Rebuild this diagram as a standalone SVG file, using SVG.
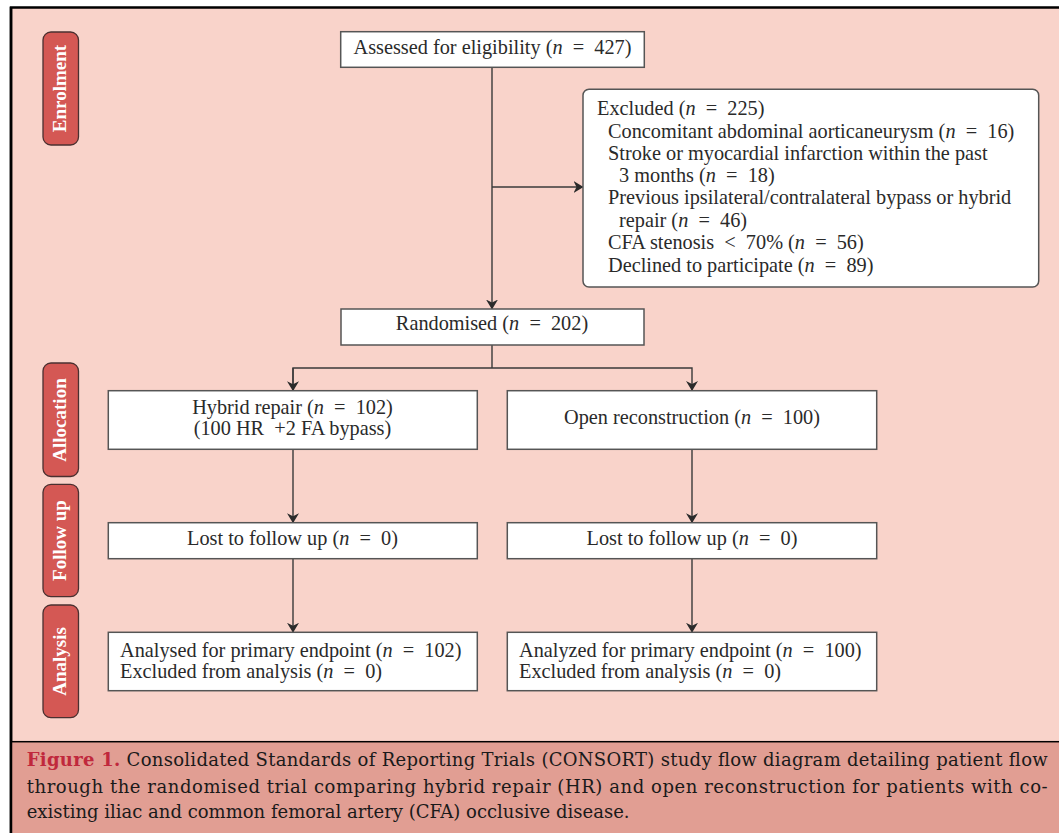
<svg xmlns="http://www.w3.org/2000/svg" width="1059" height="833" viewBox="0 0 1059 833">
<defs>
<marker id="arr" markerWidth="10" markerHeight="12" refX="9" refY="6" orient="auto" markerUnits="userSpaceOnUse">
<path d="M0,0 L10,6 L0,12 L3,6 Z" fill="#2b2b2b"/>
</marker>
<style>
.box{fill:#ffffff;stroke:#555555;stroke-width:1.5}
.pill{fill:#d45854;stroke:#4a3030;stroke-width:1.3}
.t{font-family:"Liberation Serif",serif;font-size:20.3px;fill:#2a2a2a}
.c{text-anchor:middle}
.pl{font-family:"Liberation Serif",serif;font-size:19px;font-weight:bold;fill:#ffffff;text-anchor:middle}
.ln{fill:none;stroke:#3a3a3a;stroke-width:1.4}
.cap{font-family:"DejaVu Serif",serif;font-size:18px;fill:#1a1a1a}
.fig{fill:#c0283c;font-weight:bold}
.it{font-style:italic}
</style>
</defs>
<rect x="0" y="0" width="1059" height="833" fill="#ffffff"/>
<rect x="11" y="7.5" width="1060" height="840" fill="#f9d3ca" stroke="#000000" stroke-width="2.5"/>
<rect x="11" y="741.7" width="1060" height="100" fill="#e19e93" stroke="#000000" stroke-width="1.5"/>
<line x1="11" y1="7" x2="11" y2="833" stroke="#000" stroke-width="2.5"/>

<g id="pill-enrolment"><rect class="pill" x="43" y="32" width="35.5" height="113" rx="8"/><text class="pl" transform="translate(66,88.5) rotate(-90)">Enrolment</text></g>
<g id="pill-allocation"><rect class="pill" x="43" y="363" width="35.5" height="113.5" rx="8"/><text class="pl" transform="translate(66,420) rotate(-90)">Allocation</text></g>
<g id="pill-followup"><rect class="pill" x="43" y="484.3" width="35.5" height="112.4" rx="8"/><text class="pl" transform="translate(66,540.5) rotate(-90)">Follow up</text></g>
<g id="pill-analysis"><rect class="pill" x="43" y="605" width="35.5" height="112.7" rx="8"/><text class="pl" transform="translate(66,661.5) rotate(-90)">Analysis</text></g>

<g id="connectors">
<line class="ln" x1="492" y1="67.3" x2="492" y2="308.5" marker-end="url(#arr)"/>
<line class="ln" x1="492" y1="187" x2="582.5" y2="187" marker-end="url(#arr)"/>
<polyline class="ln" points="492,345 492,368"/>
<polyline class="ln" points="293,390 293,368 692,368 692,390" marker-end="url(#arr)"/>
<line class="ln" x1="293" y1="368" x2="293" y2="390.2" marker-end="url(#arr)"/>
<line class="ln" x1="293" y1="449.3" x2="293" y2="522.2" marker-end="url(#arr)"/>
<line class="ln" x1="692" y1="449.3" x2="692" y2="522.2" marker-end="url(#arr)"/>
<line class="ln" x1="293" y1="558.7" x2="293" y2="631.8" marker-end="url(#arr)"/>
<line class="ln" x1="692" y1="558.7" x2="692" y2="631.8" marker-end="url(#arr)"/>
</g>

<g id="assessed"><rect class="box" x="340.7" y="31.7" width="303.6" height="35.6"/><text class="t c" x="492.5" y="54.3">Assessed for eligibility (<tspan class="it">n</tspan>&#8194;=&#8194;427)</text></g>

<g id="excluded"><rect class="box" x="583" y="89.3" width="455.7" height="197.7" rx="6"/>
<text class="t" x="597" y="115">Excluded (<tspan class="it">n</tspan>&#8194;=&#8194;225)</text>
<text class="t" x="608" y="137.5">Concomitant abdominal aorticaneurysm (<tspan class="it">n</tspan>&#8194;=&#8194;16)</text>
<text class="t" x="608" y="160">Stroke or myocardial infarction within the past</text>
<text class="t" x="619" y="182">3 months (<tspan class="it">n</tspan>&#8194;=&#8194;18)</text>
<text class="t" x="608" y="204">Previous ipsilateral/contralateral bypass or hybrid</text>
<text class="t" x="619" y="227">repair (<tspan class="it">n</tspan>&#8194;=&#8194;46)</text>
<text class="t" x="608" y="249">CFA stenosis&#8194;&lt;&#8194;70% (<tspan class="it">n</tspan>&#8194;=&#8194;56)</text>
<text class="t" x="608" y="272">Declined to participate (<tspan class="it">n</tspan>&#8194;=&#8194;89)</text>
</g>

<g id="randomised"><rect class="box" x="341" y="309" width="303" height="36"/><text class="t c" x="492" y="330">Randomised (<tspan class="it">n</tspan>&#8194;=&#8194;202)</text></g>

<g id="hybrid"><rect class="box" x="108.3" y="390.7" width="369" height="58.6"/><text class="t c" x="292.5" y="414">Hybrid repair (<tspan class="it">n</tspan>&#8194;=&#8194;102)</text><text class="t c" x="292.5" y="435">(100 HR&#8194;+2 FA bypass)</text></g>
<g id="open"><rect class="box" x="507.3" y="390.7" width="369.4" height="58.6"/><text class="t c" x="692" y="424.3">Open reconstruction (<tspan class="it">n</tspan>&#8194;=&#8194;100)</text></g>

<g id="lost-left"><rect class="box" x="108.3" y="522.7" width="369" height="36"/><text class="t c" x="292.5" y="545.3">Lost to follow up (<tspan class="it">n</tspan>&#8194;=&#8194;0)</text></g>
<g id="lost-right"><rect class="box" x="507.3" y="522.7" width="369.4" height="36"/><text class="t c" x="692" y="545.3">Lost to follow up (<tspan class="it">n</tspan>&#8194;=&#8194;0)</text></g>

<g id="analysed-left"><rect class="box" x="108.3" y="632.3" width="369" height="58.4"/><text class="t" x="120" y="656.7">Analysed for primary endpoint (<tspan class="it">n</tspan>&#8194;=&#8194;102)</text><text class="t" x="120" y="678.3">Excluded from analysis (<tspan class="it">n</tspan>&#8194;=&#8194;0)</text></g>
<g id="analysed-right"><rect class="box" x="507.3" y="632.3" width="369.4" height="58.4"/><text class="t" x="519" y="656.7">Analyzed for primary endpoint (<tspan class="it">n</tspan>&#8194;=&#8194;100)</text><text class="t" x="519" y="678.3">Excluded from analysis (<tspan class="it">n</tspan>&#8194;=&#8194;0)</text></g>

<g id="caption">
<text class="cap" x="26.7" y="765.7" textLength="1021" lengthAdjust="spacing"><tspan class="fig">Figure 1.</tspan> Consolidated Standards of Reporting Trials (CONSORT) study flow diagram detailing patient flow</text>
<text class="cap" x="26.7" y="792.7" textLength="1021" lengthAdjust="spacing">through the randomised trial comparing hybrid repair (HR) and open reconstruction for patients with co-</text>
<text class="cap" x="26.7" y="818.3">existing iliac and common femoral artery (CFA) occlusive disease.</text>
</g>
</svg>
